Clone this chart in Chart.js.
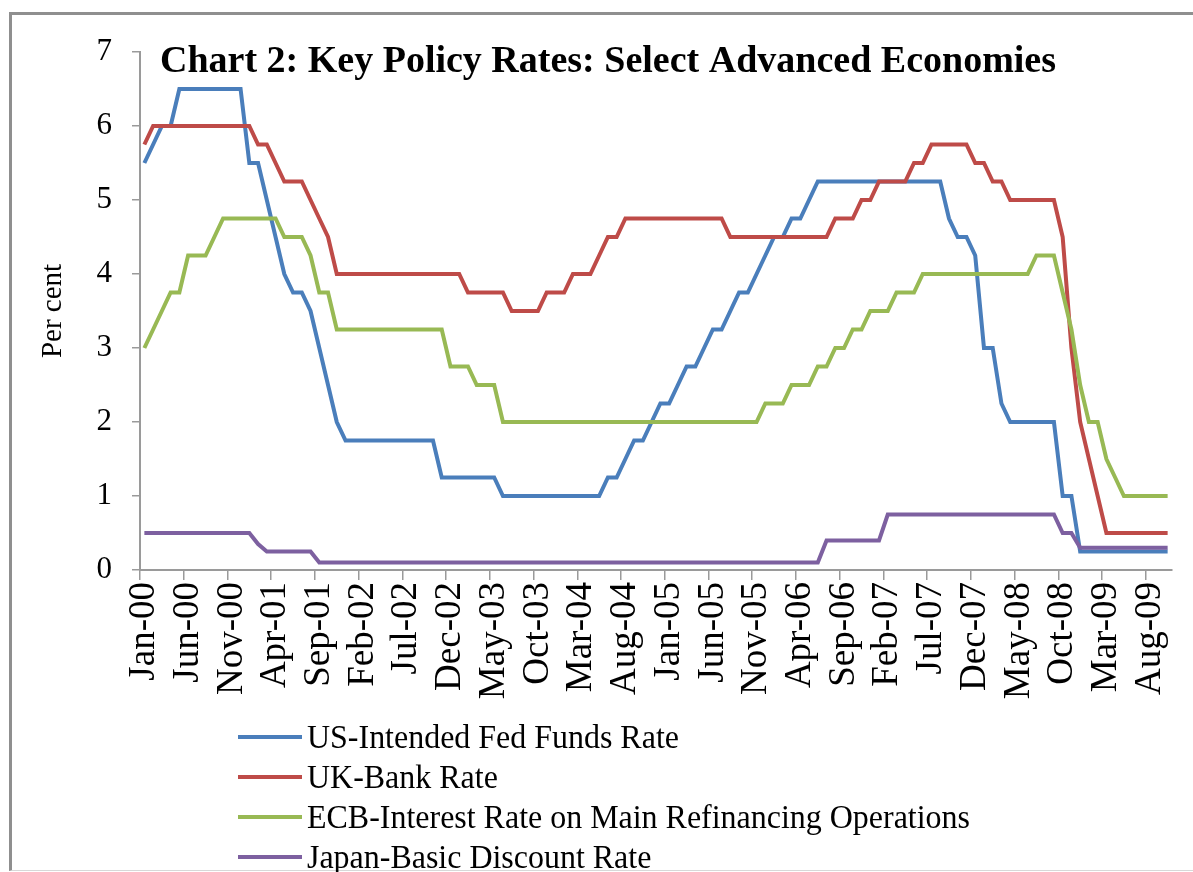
<!DOCTYPE html>
<html>
<head>
<meta charset="utf-8">
<title>Key Policy Rates</title>
<script src="https://cdn.jsdelivr.net/npm/chart.js"></script>
<style>
  html, body { margin: 0; padding: 0; background: #fff; }
  #wrap { position: relative; width: 1193px; height: 872px; overflow: hidden; }
  #frame { position: absolute; left: 9px; top: 12px; width: 1300px; height: 855px;
           border-left: 3px solid #8f8f8f; border-top: 3px solid #8f8f8f; border-bottom: 1px solid #d8d8d8; }
  canvas { position: absolute; left: 0; top: 0; }
  #legend { position: absolute; left: 238px; top: 717px; font-family: "Liberation Serif", "Times New Roman", serif;
            font-size: 34px; color: #000; }
  .item { height: 40px; display: flex; align-items: center; white-space: nowrap; }
  .swatch { width: 64px; height: 4px; margin-right: 5px; flex: none; }
  .label { display: inline-block; transform: scaleX(0.94); transform-origin: left center; }
</style>
</head>
<body>
<div id="wrap">
  <div id="frame"></div>
  <canvas id="myChart" width="1193" height="872"></canvas>
  <div id="legend"></div>
</div>
<script>
// chart data (monthly, end of month, Jan-00 .. Oct-09)
const titleText = 'Chart 2: Key Policy Rates: Select Advanced Economies';
const monthNames = ['Jan', 'Feb', 'Mar', 'Apr', 'May', 'Jun', 'Jul', 'Aug', 'Sep', 'Oct', 'Nov', 'Dec'];
const years = ['00', '01', '02', '03', '04', '05', '06', '07', '08', '09'];
const lastMonthOf2009 = 10; // data runs to Oct-09

const categories = [];
years.forEach(function (yy, k) {
    const n = (k === years.length - 1) ? lastMonthOf2009 : 12;
    for (let m = 0; m < n; m++) categories.push(monthNames[m] + '-' + yy);
});

const usRate = [
    5.5, 5.75, 6, 6, 6.5, 6.5, 6.5, 6.5, 6.5, 6.5, 6.5, 6.5,
    5.5, 5.5, 5, 4.5, 4, 3.75, 3.75, 3.5, 3, 2.5, 2, 1.75,
    1.75, 1.75, 1.75, 1.75, 1.75, 1.75, 1.75, 1.75, 1.75, 1.75, 1.25, 1.25,
    1.25, 1.25, 1.25, 1.25, 1.25, 1, 1, 1, 1, 1, 1, 1,
    1, 1, 1, 1, 1, 1.25, 1.25, 1.5, 1.75, 1.75, 2, 2.25,
    2.25, 2.5, 2.75, 2.75, 3, 3.25, 3.25, 3.5, 3.75, 3.75, 4, 4.25,
    4.5, 4.5, 4.75, 4.75, 5, 5.25, 5.25, 5.25, 5.25, 5.25, 5.25, 5.25,
    5.25, 5.25, 5.25, 5.25, 5.25, 5.25, 5.25, 5.25, 4.75, 4.5, 4.5, 4.25,
    3, 3, 2.25, 2, 2, 2, 2, 2, 2, 1, 1, 0.25,
    0.25, 0.25, 0.25, 0.25, 0.25, 0.25, 0.25, 0.25, 0.25, 0.25
];

const ukRate = [
    5.75, 6, 6, 6, 6, 6, 6, 6, 6, 6, 6, 6,
    6, 5.75, 5.75, 5.5, 5.25, 5.25, 5.25, 5, 4.75, 4.5, 4, 4,
    4, 4, 4, 4, 4, 4, 4, 4, 4, 4, 4, 4,
    4, 3.75, 3.75, 3.75, 3.75, 3.75, 3.5, 3.5, 3.5, 3.5, 3.75, 3.75,
    3.75, 4, 4, 4, 4.25, 4.5, 4.5, 4.75, 4.75, 4.75, 4.75, 4.75,
    4.75, 4.75, 4.75, 4.75, 4.75, 4.75, 4.75, 4.5, 4.5, 4.5, 4.5, 4.5,
    4.5, 4.5, 4.5, 4.5, 4.5, 4.5, 4.5, 4.75, 4.75, 4.75, 5, 5,
    5.25, 5.25, 5.25, 5.25, 5.5, 5.5, 5.75, 5.75, 5.75, 5.75, 5.75, 5.5,
    5.5, 5.25, 5.25, 5, 5, 5, 5, 5, 5, 4.5, 3, 2,
    1.5, 1, 0.5, 0.5, 0.5, 0.5, 0.5, 0.5, 0.5, 0.5
];

const ecbRate = [
    3, 3.25, 3.5, 3.75, 3.75, 4.25, 4.25, 4.25, 4.5, 4.75, 4.75, 4.75,
    4.75, 4.75, 4.75, 4.75, 4.5, 4.5, 4.5, 4.25, 3.75, 3.75, 3.25, 3.25,
    3.25, 3.25, 3.25, 3.25, 3.25, 3.25, 3.25, 3.25, 3.25, 3.25, 3.25, 2.75,
    2.75, 2.75, 2.5, 2.5, 2.5, 2, 2, 2, 2, 2, 2, 2,
    2, 2, 2, 2, 2, 2, 2, 2, 2, 2, 2, 2,
    2, 2, 2, 2, 2, 2, 2, 2, 2, 2, 2, 2.25,
    2.25, 2.25, 2.5, 2.5, 2.5, 2.75, 2.75, 3, 3, 3.25, 3.25, 3.5,
    3.5, 3.5, 3.75, 3.75, 3.75, 4, 4, 4, 4, 4, 4, 4,
    4, 4, 4, 4, 4, 4, 4.25, 4.25, 4.25, 3.75, 3.25, 2.5,
    2, 2, 1.5, 1.25, 1, 1, 1, 1, 1, 1
];

const japanRate = [
    0.5, 0.5, 0.5, 0.5, 0.5, 0.5, 0.5, 0.5, 0.5, 0.5, 0.5, 0.5,
    0.5, 0.35, 0.25, 0.25, 0.25, 0.25, 0.25, 0.25, 0.1, 0.1, 0.1, 0.1,
    0.1, 0.1, 0.1, 0.1, 0.1, 0.1, 0.1, 0.1, 0.1, 0.1, 0.1, 0.1,
    0.1, 0.1, 0.1, 0.1, 0.1, 0.1, 0.1, 0.1, 0.1, 0.1, 0.1, 0.1,
    0.1, 0.1, 0.1, 0.1, 0.1, 0.1, 0.1, 0.1, 0.1, 0.1, 0.1, 0.1,
    0.1, 0.1, 0.1, 0.1, 0.1, 0.1, 0.1, 0.1, 0.1, 0.1, 0.1, 0.1,
    0.1, 0.1, 0.1, 0.1, 0.1, 0.1, 0.4, 0.4, 0.4, 0.4, 0.4, 0.4,
    0.4, 0.75, 0.75, 0.75, 0.75, 0.75, 0.75, 0.75, 0.75, 0.75, 0.75, 0.75,
    0.75, 0.75, 0.75, 0.75, 0.75, 0.75, 0.75, 0.75, 0.75, 0.5, 0.5, 0.3,
    0.3, 0.3, 0.3, 0.3, 0.3, 0.3, 0.3, 0.3, 0.3, 0.3
];

const seriesNames = [
    'US-Intended Fed Funds Rate',
    'UK-Bank Rate',
    'ECB-Interest Rate on Main Refinancing Operations',
    'Japan-Basic Discount Rate'
];
const seriesColors = ['#4a7ebb', '#be4b48', '#98b954', '#7d60a0'];
const yTicks = [0, 1, 2, 3, 4, 5, 6, 7];

const serif = '"Liberation Serif", "Times New Roman", serif';
const axisGray = '#9a9a9a';

// title sits inside the plot area, like the original
const insideTitle = {
    id: 'insideTitle',
    afterDraw(chart) {
        const c = chart.ctx;
        c.save();
        c.font = 'bold 38px ' + serif;
        c.fillStyle = '#000';
        c.textBaseline = 'middle';
        c.fillText(titleText, chart.chartArea.left + 20, chart.chartArea.top + 10);
        c.restore();
    }
};

function makeSet(i, values) {
    return {
        label: seriesNames[i],
        data: values,
        borderColor: seriesColors[i],
        backgroundColor: seriesColors[i],
        borderWidth: 4,
        pointRadius: 0,
        tension: 0,
        fill: false,
        order: 4 - i
    };
}

const ctx = document.getElementById('myChart').getContext('2d');
const myChart = new Chart(ctx, {
    type: 'line',
    data: {
        labels: categories,
        datasets: [
            makeSet(0, usRate),
            makeSet(1, ukRate),
            makeSet(2, ecbRate),
            makeSet(3, japanRate)
        ]
    },
    options: {
        responsive: false,
        animation: false,
        devicePixelRatio: 1,
        layout: { padding: { left: 10, top: 52, right: 21, bottom: 152 } },
        plugins: {
            legend: { display: false },
            tooltip: { enabled: false }
        },
        scales: {
            x: {
                type: 'category',
                offset: true,
                afterFit(scale) {
                    scale.height = 150;
                    scale.paddingLeft = 0;
                    scale.paddingRight = 0;
                },
                border: { color: axisGray, width: 2 },
                grid: {
                    offset: true,
                    drawOnChartArea: false,
                    drawTicks: true,
                    tickLength: 10,
                    lineWidth: 1.5,
                    color: (c) => (c.index % 5 === 0 ? axisGray : 'rgba(0,0,0,0)')
                },
                ticks: {
                    autoSkip: false,
                    maxRotation: 90,
                    minRotation: 90,
                    padding: 2,
                    color: '#000',
                    font: { family: serif, size: 37 },
                    callback: (v, i) => (i % 5 === 0 ? categories[i] : '')
                }
            },
            y: {
                min: yTicks[0],
                max: yTicks[yTicks.length - 1],
                afterFit(scale) { scale.width = 130; },
                border: { color: axisGray, width: 2 },
                grid: { drawOnChartArea: false, tickLength: 8, color: axisGray, lineWidth: 1.5 },
                ticks: {
                    stepSize: 1,
                    padding: 20,
                    color: '#000',
                    font: { family: serif, size: 31 }
                },
                title: {
                    display: true,
                    text: 'Per cent',
                    color: '#000',
                    padding: { top: 26 },
                    font: { family: serif, size: 29 }
                }
            }
        }
    },
    plugins: [insideTitle]
});

// legend as a plain list below the chart
const legendBox = document.getElementById('legend');
myChart.data.datasets.forEach(function (ds) {
    const row = document.createElement('div');
    row.className = 'item';
    const sw = document.createElement('span');
    sw.className = 'swatch';
    sw.style.background = ds.borderColor;
    const txt = document.createElement('span');
    txt.className = 'label';
    txt.textContent = ds.label;
    row.appendChild(sw);
    row.appendChild(txt);
    legendBox.appendChild(row);
});
</script>
</body>
</html>
